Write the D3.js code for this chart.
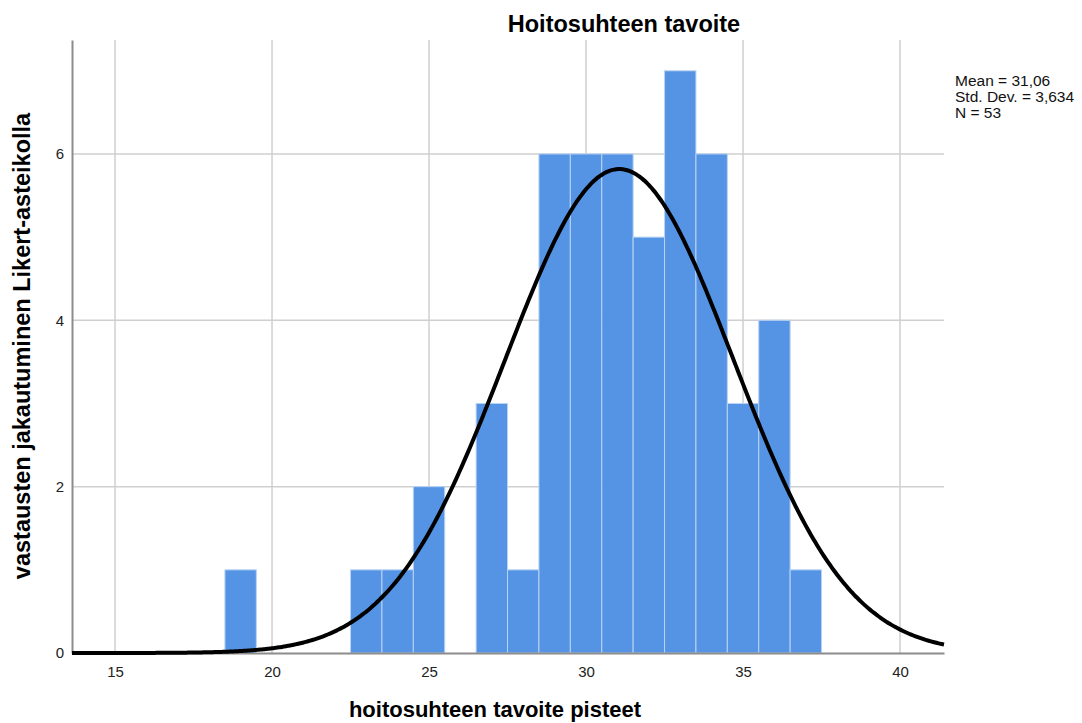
<!DOCTYPE html>
<html>
<head>
<meta charset="utf-8">
<script src="https://cdn.jsdelivr.net/npm/d3@7"></script>
<style>
  body { margin: 0; background: #fff; }
  text { font-family: "Liberation Sans", Arial, sans-serif; }
</style>
</head>
<body>
<div id="chart"></div>
<script>
// histogram bins (bin centre, count)
var binCenters = [19, 23, 24, 25, 27, 28, 29, 30, 31, 32, 33, 34, 35, 36, 37];
var binCounts  = [1, 1, 1, 2, 3, 1, 6, 6, 6, 5, 7, 6, 3, 4, 1];
var xTicks = [15, 20, 25, 30, 35, 40];
var yTicks = [0, 2, 4, 6];
var mean = 31.06, stdDev = 3.634, n = 53;
var statLines = ["Mean = 31,06", "Std. Dev. = 3,634", "N = 53"];

var svgWidth = 1082, svgHeight = 723;
var margin = { top: 40, right: 138, bottom: 70, left: 72 };
var width = svgWidth - margin.left - margin.right;
var height = svgHeight - margin.top - margin.bottom;

var svg = d3.select("#chart").append("svg")
    .attr("width", svgWidth)
    .attr("height", svgHeight);

var g = svg.append("g")
    .attr("transform", `translate(${margin.left}, ${margin.top})`);

var x = d3.scaleLinear().domain([13.63, 41.4]).range([0, width]);
var y = d3.scaleLinear().domain([0, 7.37]).range([height, 0]);

// grid lines
g.selectAll(".vgrid").data(xTicks).enter().append("line")
    .attr("x1", d => x(d)).attr("x2", d => x(d))
    .attr("y1", 0).attr("y2", height)
    .attr("stroke", "#cfcfcf").attr("stroke-width", 1.5);
g.selectAll(".hgrid").data(yTicks.filter(d => d > 0)).enter().append("line")
    .attr("x1", 0).attr("x2", width)
    .attr("y1", d => y(d)).attr("y2", d => y(d))
    .attr("stroke", "#cfcfcf").attr("stroke-width", 1.5);

// bars
var bins = binCenters.map((c, i) => ({ c: c, v: binCounts[i] }));
g.selectAll("rect.bar").data(bins).enter().append("rect")
    .attr("class", "bar")
    .attr("x", d => x(d.c - 0.5))
    .attr("width", d => x(d.c + 0.5) - x(d.c - 0.5))
    .attr("y", d => y(d.v))
    .attr("height", d => y(0) - y(d.v))
    .attr("fill", "#5594e4")
    .attr("stroke", "#b9d3f3")
    .attr("stroke-width", 1);

// axes
var xAxis = d3.axisBottom(x).tickValues(xTicks).tickSize(0).tickPadding(13);
var yAxis = d3.axisLeft(y).tickValues(yTicks).tickSize(0).tickPadding(8);

var gx = g.append("g").attr("transform", `translate(0, ${height})`).call(xAxis);
var gy = g.append("g").call(yAxis);
[gx, gy].forEach(a => {
  a.select(".domain").attr("stroke", "#8c8c8c").attr("stroke-width", 2);
  a.selectAll("text").attr("font-size", "15px").attr("fill", "#222")
    .style("font-family", "'Liberation Sans', Arial, sans-serif");
});

// normal curve from the reported mean and std. dev.
var xs = d3.range(400).map(i => x.domain()[0] + i * (x.domain()[1] - x.domain()[0]) / 399);
var curve = xs.map(v => [v, n * Math.exp(-0.5 * Math.pow((v - mean) / stdDev, 2)) / (stdDev * Math.sqrt(2 * Math.PI))]);
g.append("path")
    .datum(curve)
    .attr("fill", "none")
    .attr("stroke", "#000")
    .attr("stroke-width", 4)
    .attr("d", d3.line().x(d => x(d[0])).y(d => y(d[1])).curve(d3.curveBasis));

// title and labels
svg.append("text")
    .attr("x", 624).attr("y", 32)
    .attr("text-anchor", "middle")
    .attr("font-size", "23.5px").attr("font-weight", "bold")
    .text("Hoitosuhteen tavoite");

svg.append("text")
    .attr("x", 495).attr("y", 717)
    .attr("text-anchor", "middle")
    .attr("font-size", "22px").attr("font-weight", "bold")
    .text("hoitosuhteen tavoite pisteet");

svg.append("text")
    .attr("transform", "translate(30, 346) rotate(-90)")
    .attr("text-anchor", "middle")
    .attr("font-size", "23.5px").attr("font-weight", "bold")
    .text("vastausten jakautuminen Likert-asteikolla");

svg.selectAll(".stat").data(statLines).enter().append("text")
    .attr("x", 955)
    .attr("y", (d, i) => 86 + i * 16)
    .attr("font-size", "15.5px")
    .attr("fill", "#111")
    .text(d => d);
</script>
</body>
</html>
